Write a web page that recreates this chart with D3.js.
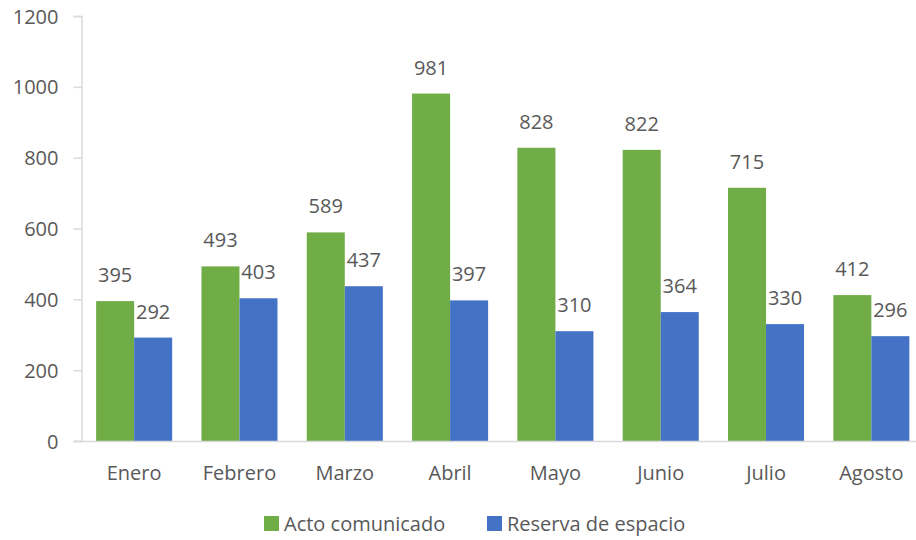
<!DOCTYPE html>
<html>
<head>
<meta charset="utf-8">
<script src="https://cdn.jsdelivr.net/npm/d3@7"></script>
<style>
  body { margin: 0; background: #fff; }
  text { font-family: "Open Sans", "Noto Sans", sans-serif; fill: #595959; }
</style>
</head>
<body>
<svg id="chart" width="916" height="540"></svg>
<script>
var months = ["Enero", "Febrero", "Marzo", "Abril", "Mayo", "Junio", "Julio", "Agosto"];
var acto = [395, 493, 589, 981, 828, 822, 715, 412];
var reserva = [292, 403, 437, 397, 310, 364, 330, 296];
var seriesNames = ["Acto comunicado", "Reserva de espacio"];
var seriesColors = ["#70AD47", "#4472C4"];
var yTicks = [0, 200, 400, 600, 800, 1000, 1200];

var svg = d3.select("#chart");
var fs = "20px";

var x = d3.scaleBand().domain(months).range([81.5, 924]).paddingInner(0.278).paddingOuter(0.139);
var xs = d3.scaleBand().domain([0, 1]).range([0, x.bandwidth()]);
var y = d3.scaleLinear().domain([0, 1200]).range([441, 16]);

// y axis
var yAxis = svg.append("g").attr("transform", "translate(81.5,0)")
  .call(d3.axisLeft(y).tickValues(yTicks).tickFormat(d3.format("d")).tickSize(8).tickPadding(15));
yAxis.select(".domain").attr("stroke", "#D9D9D9").attr("stroke-width", 1.5);
yAxis.selectAll(".tick line").attr("stroke", "#D9D9D9").attr("stroke-width", 1.5);
yAxis.selectAll(".tick text").style("font-size", fs).style("font-family", null).attr("fill", "#595959").attr("dy", "0.35em");

// bars
var series = [acto, reserva];
series.forEach(function(vals, si){
  var g = svg.append("g");
  g.selectAll("rect").data(vals).enter().append("rect")
    .attr("x", function(d, i){ return x(months[i]) + xs(si); })
    .attr("y", function(d){ return y(d); })
    .attr("width", xs.bandwidth())
    .attr("height", function(d){ return y(0) - y(d); })
    .attr("fill", seriesColors[si]);
  g.selectAll("text").data(vals).enter().append("text")
    .attr("x", function(d, i){ return x(months[i]) + xs(si) + xs.bandwidth()/2; })
    .attr("y", function(d){ return y(d) - 19; })
    .attr("text-anchor", "middle")
    .style("font-size", fs)
    .text(function(d){ return d; });
});

// x axis line
svg.append("line")
  .attr("x1", 74).attr("x2", 916).attr("y1", 441.5).attr("y2", 441.5)
  .attr("stroke", "#D9D9D9").attr("stroke-width", 1.5);

svg.append("g").selectAll("text").data(months).enter().append("text")
  .attr("x", function(d){ return x(d) + x.bandwidth()/2; })
  .attr("y", 480)
  .attr("text-anchor", "middle")
  .style("font-size", fs)
  .text(function(d){ return d; });

// legend
var legendX = [264, 487];
var leg = svg.append("g");
seriesNames.forEach(function(name, i){
  leg.append("rect").attr("x", legendX[i]).attr("y", 516).attr("width", 15).attr("height", 15).attr("fill", seriesColors[i]);
  leg.append("text").attr("x", legendX[i] + 20).attr("y", 531).style("font-size", fs).text(name);
});
</script>
</body>
</html>
